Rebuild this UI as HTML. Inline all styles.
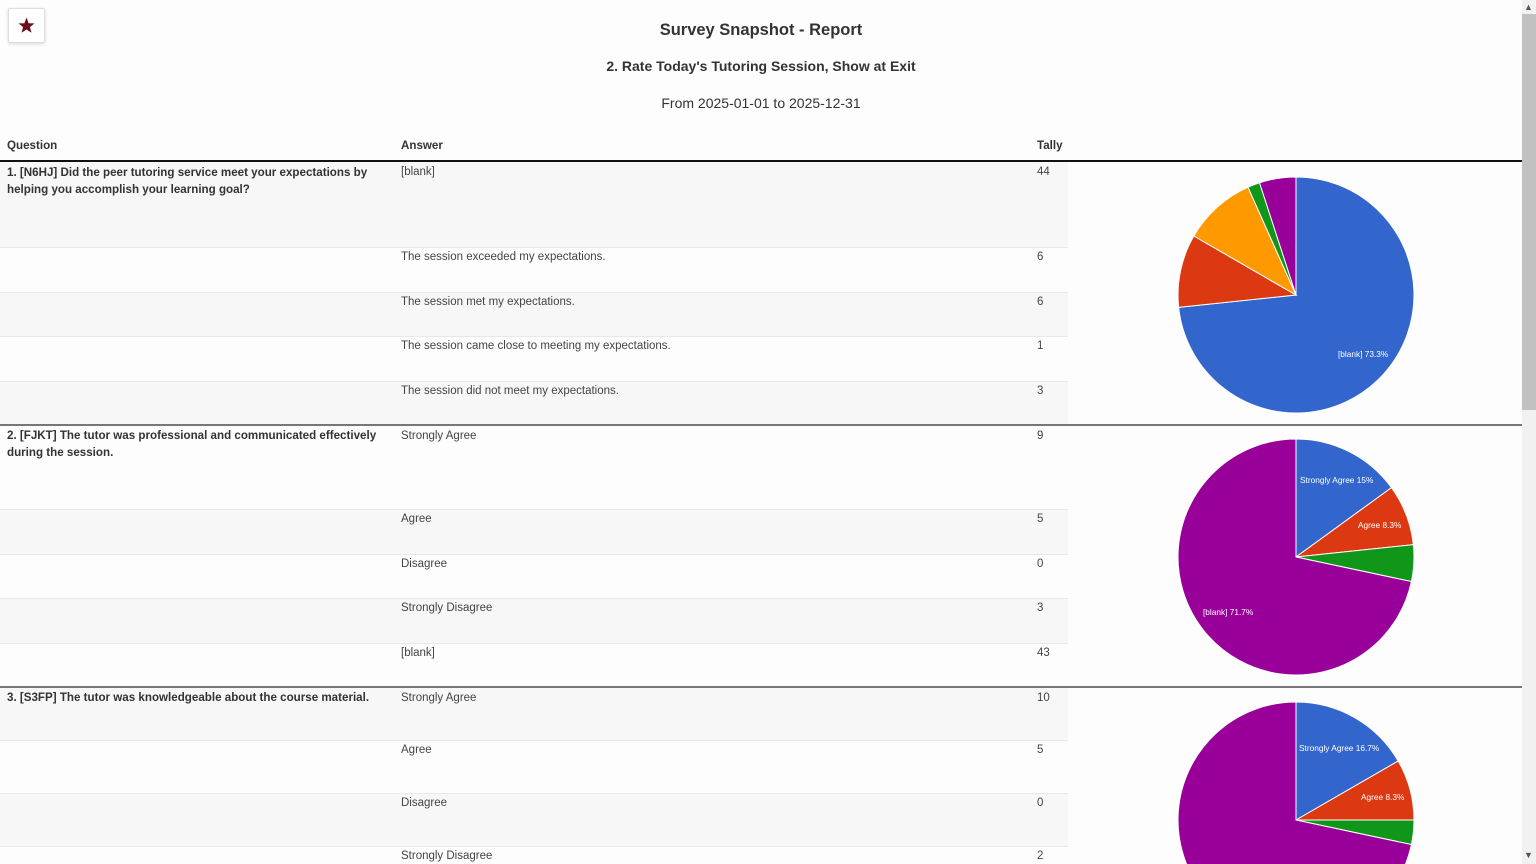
<!DOCTYPE html>
<html><head><meta charset="utf-8"><style>
html,body{margin:0;width:1536px;height:864px;overflow:hidden}
body{background:#fdfdfd;font-family:"Liberation Sans",Arial,sans-serif;position:relative}
.a{position:absolute;white-space:nowrap}
.t{font-size:11.5px;color:#444}
.q{font-size:11.6px;color:#333;font-weight:bold;line-height:16.5px;white-space:normal;width:385px}
.row{position:absolute;left:0;width:1068px;border-top:1px solid #e8e8e8}
</style></head><body>
<div class="a" style="left:8px;top:8px;width:35px;height:33px;border:1px solid #ddd;box-shadow:0 1px 3px rgba(0,0,0,.15);background:#fff;border-radius:2px">
<svg width="35" height="33" viewBox="0 0 35 33"><polygon points="17.5,8.5 19.6,14.2 25.5,14.4 20.9,18.1 22.5,23.8 17.5,20.5 12.5,23.8 14.1,18.1 9.5,14.4 15.4,14.2" fill="#6b0f1a"/></svg></div>
<div class="a" style="left:0;width:1522px;text-align:center;top:21px;font-size:16.5px;font-weight:bold;color:#333">Survey Snapshot - Report</div>
<div class="a" style="left:0;width:1522px;text-align:center;top:58px;font-size:14px;font-weight:bold;color:#333">2. Rate Today's Tutoring Session, Show at Exit</div>
<div class="a" style="left:0;width:1522px;text-align:center;top:95px;font-size:14px;color:#333">From 2025-01-01 to 2025-12-31</div>
<div class="a" style="left:7px;top:139px;font-size:11.6px;font-weight:bold;color:#333">Question</div>
<div class="a" style="left:401px;top:139px;font-size:11.6px;font-weight:bold;color:#333">Answer</div>
<div class="a" style="left:1037px;top:139px;font-size:11.6px;font-weight:bold;color:#333">Tally</div>
<div id="rows"></div>
<div class="a" style="left:0;top:160px;width:1522px;height:2px;background:#111"></div>
<div class="a" style="left:0;top:424px;width:1522px;height:2px;background:#777"></div>
<div class="a" style="left:0;top:686px;width:1522px;height:2px;background:#777"></div>
<div class="a q" style="left:7px;top:165px">1. [N6HJ] Did the peer tutoring service meet your expectations by helping you accomplish your learning goal?</div>
<div class="a q" style="left:7px;top:428px">2. [FJKT] The tutor was professional and communicated effectively during the session.</div>
<div class="a q" style="left:7px;top:690px">3. [S3FP] The tutor was knowledgeable about the course material.</div>
<svg class="a" id="pies" style="left:0;top:0" width="1522" height="864"></svg>
<div class="a" style="left:1522px;top:0;width:14px;height:864px;background:#f1f1f1"></div>
<div class="a" style="left:1522px;top:14px;width:14px;height:396px;background:#c1c1c1"></div>
<div class="a" style="left:1524px;top:2px;font-size:9px;color:#555">&#9650;</div>
<div class="a" style="left:1524px;top:850px;font-size:9px;color:#555">&#9660;</div>
<script>
var rows=[
[162,247,1,"[blank]",44],[247,292,0,"The session exceeded my expectations.",6],[292,336,1,"The session met my expectations.",6],[336,381,0,"The session came close to meeting my expectations.",1],[381,425,1,"The session did not meet my expectations.",3],
[426,509,0,"Strongly Agree",9],[509,554,1,"Agree",5],[554,598,0,"Disagree",0],[598,643,1,"Strongly Disagree",3],[643,687,0,"[blank]",43],
[688,740,1,"Strongly Agree",10],[740,793,0,"Agree",5],[793,846,1,"Disagree",0],[846,864,0,"Strongly Disagree",2]];
var h="";
rows.forEach(function(r,i){
h+='<div class="row" style="top:'+r[0]+'px;height:'+(r[1]-r[0]-(i==13?1:0))+'px;background:'+(r[2]?'#f8f7f8':'transparent')+(i==0||i==5||i==10?';border-top:none':'')+'"></div>';
h+='<div class="a t" style="left:401px;top:'+(r[0]+4)+'px">'+r[3]+'</div>';
h+='<div class="a t" style="left:1037px;top:'+(r[0]+4)+'px">'+r[4]+'</div>';
});
document.getElementById('rows').innerHTML=h;
var C=["#3366cc","#dc3912","#ff9900","#109618","#990099"];
function pie(cx,cy,r,vals,labels){
 var tot=vals.reduce(function(a,b){return a+b},0),a=0,s="";
 vals.forEach(function(v,i){
  if(!v)return;
  var a2=a+v/tot*2*Math.PI;
  var x1=cx+r*Math.sin(a),y1=cy-r*Math.cos(a),x2=cx+r*Math.sin(a2),y2=cy-r*Math.cos(a2);
  s+='<path d="M'+cx+','+cy+'L'+x1+','+y1+'A'+r+','+r+' 0 '+(a2-a>Math.PI?1:0)+' 1 '+x2+','+y2+'Z" fill="'+C[i]+'" stroke="#fff" stroke-width="1"/>';
  a=a2;});
 labels.forEach(function(l){s+='<text x="'+l[0]+'" y="'+l[1]+'" font-size="8.3" fill="#fff" font-family="Liberation Sans,sans-serif">'+l[2]+'</text>'});
 return s;}
var s=pie(1296,295,118,[44,6,6,1,3],[[1338,357,"[blank] 73.3%"]]);
s+=pie(1296,557,118,[9,5,0,3,43],[[1300,483,"Strongly Agree 15%"],[1358,528,"Agree 8.3%"],[1203,615,"[blank] 71.7%"]]);
s+=pie(1296,820,118,[10,5,0,2,43],[[1299,751,"Strongly Agree 16.7%"],[1361,800,"Agree 8.3%"]]);
document.getElementById('pies').innerHTML=s;
</script>
</body></html>
